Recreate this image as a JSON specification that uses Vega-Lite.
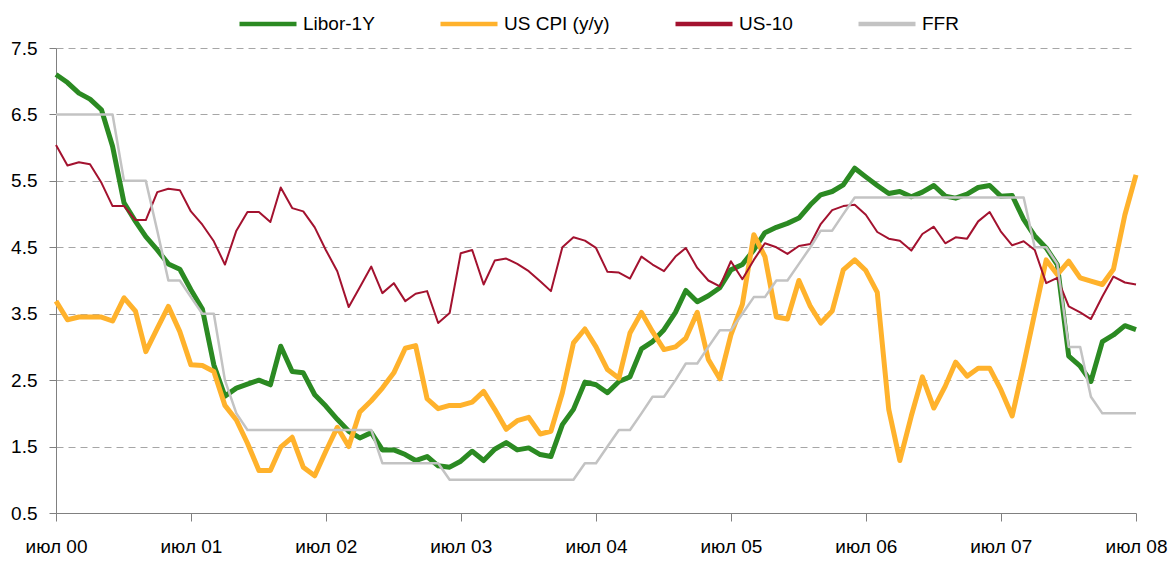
{
  "$schema": "https://vega.github.io/schema/vega-lite/v6.json",
  "width": 1080,
  "height": 465,
  "autosize": {"type": "none"},
  "padding": {"left": 56, "top": 48, "right": 33, "bottom": 48},
  "background": "white",
  "config": {
    "view": {"stroke": null},
    "font": "Liberation Sans",
    "legend": {
      "orient": "none",
      "legendX": 181,
      "legendY": -55,
      "direction": "horizontal",
      "title": null,
      "labelFontSize": 19,
      "labelColor": "#000000",
      "labelFont": "Liberation Sans",
      "symbolType": "stroke",
      "symbolSize": 3249,
      "symbolStrokeWidth": 4.5,
      "labelOffset": 4,
      "columnPadding": 56
    }
  },
  "data": {
    "values": [
      {"date": "2000-07-01", "Libor-1Y": 7.10, "US CPI (y/y)": 3.69, "US-10": 6.04, "FFR": 6.5},
      {"date": "2000-08-01", "Libor-1Y": 6.98, "US CPI (y/y)": 3.41, "US-10": 5.73, "FFR": 6.5},
      {"date": "2000-09-01", "Libor-1Y": 6.82, "US CPI (y/y)": 3.45, "US-10": 5.78, "FFR": 6.5},
      {"date": "2000-10-01", "Libor-1Y": 6.73, "US CPI (y/y)": 3.45, "US-10": 5.75, "FFR": 6.5},
      {"date": "2000-11-01", "Libor-1Y": 6.57, "US CPI (y/y)": 3.45, "US-10": 5.47, "FFR": 6.5},
      {"date": "2000-12-01", "Libor-1Y": 6.02, "US CPI (y/y)": 3.39, "US-10": 5.12, "FFR": 6.5},
      {"date": "2001-01-01", "Libor-1Y": 5.17, "US CPI (y/y)": 3.74, "US-10": 5.12, "FFR": 5.5},
      {"date": "2001-02-01", "Libor-1Y": 4.89, "US CPI (y/y)": 3.54, "US-10": 4.91, "FFR": 5.5},
      {"date": "2001-03-01", "Libor-1Y": 4.66, "US CPI (y/y)": 2.93, "US-10": 4.91, "FFR": 5.5},
      {"date": "2001-04-01", "Libor-1Y": 4.46, "US CPI (y/y)": 3.28, "US-10": 5.33, "FFR": 4.75},
      {"date": "2001-05-01", "Libor-1Y": 4.25, "US CPI (y/y)": 3.61, "US-10": 5.38, "FFR": 4.0},
      {"date": "2001-06-01", "Libor-1Y": 4.17, "US CPI (y/y)": 3.23, "US-10": 5.36, "FFR": 4.0},
      {"date": "2001-07-01", "Libor-1Y": 3.86, "US CPI (y/y)": 2.73, "US-10": 5.04, "FFR": 3.75},
      {"date": "2001-08-01", "Libor-1Y": 3.57, "US CPI (y/y)": 2.72, "US-10": 4.84, "FFR": 3.5},
      {"date": "2001-09-01", "Libor-1Y": 2.73, "US CPI (y/y)": 2.63, "US-10": 4.59, "FFR": 3.5},
      {"date": "2001-10-01", "Libor-1Y": 2.26, "US CPI (y/y)": 2.12, "US-10": 4.24, "FFR": 2.5},
      {"date": "2001-11-01", "Libor-1Y": 2.38, "US CPI (y/y)": 1.90, "US-10": 4.75, "FFR": 2.0},
      {"date": "2001-12-01", "Libor-1Y": 2.44, "US CPI (y/y)": 1.55, "US-10": 5.03, "FFR": 1.75},
      {"date": "2002-01-01", "Libor-1Y": 2.50, "US CPI (y/y)": 1.14, "US-10": 5.03, "FFR": 1.75},
      {"date": "2002-02-01", "Libor-1Y": 2.43, "US CPI (y/y)": 1.14, "US-10": 4.88, "FFR": 1.75},
      {"date": "2002-03-01", "Libor-1Y": 3.01, "US CPI (y/y)": 1.49, "US-10": 5.40, "FFR": 1.75},
      {"date": "2002-04-01", "Libor-1Y": 2.63, "US CPI (y/y)": 1.64, "US-10": 5.09, "FFR": 1.75},
      {"date": "2002-05-01", "Libor-1Y": 2.61, "US CPI (y/y)": 1.19, "US-10": 5.04, "FFR": 1.75},
      {"date": "2002-06-01", "Libor-1Y": 2.28, "US CPI (y/y)": 1.06, "US-10": 4.80, "FFR": 1.75},
      {"date": "2002-07-01", "Libor-1Y": 2.11, "US CPI (y/y)": 1.43, "US-10": 4.46, "FFR": 1.75},
      {"date": "2002-08-01", "Libor-1Y": 1.91, "US CPI (y/y)": 1.79, "US-10": 4.14, "FFR": 1.75},
      {"date": "2002-09-01", "Libor-1Y": 1.73, "US CPI (y/y)": 1.50, "US-10": 3.60, "FFR": 1.75},
      {"date": "2002-10-01", "Libor-1Y": 1.63, "US CPI (y/y)": 2.02, "US-10": 3.90, "FFR": 1.75},
      {"date": "2002-11-01", "Libor-1Y": 1.71, "US CPI (y/y)": 2.19, "US-10": 4.21, "FFR": 1.75},
      {"date": "2002-12-01", "Libor-1Y": 1.45, "US CPI (y/y)": 2.38, "US-10": 3.81, "FFR": 1.25},
      {"date": "2003-01-01", "Libor-1Y": 1.45, "US CPI (y/y)": 2.61, "US-10": 3.96, "FFR": 1.25},
      {"date": "2003-02-01", "Libor-1Y": 1.38, "US CPI (y/y)": 2.98, "US-10": 3.69, "FFR": 1.25},
      {"date": "2003-03-01", "Libor-1Y": 1.29, "US CPI (y/y)": 3.02, "US-10": 3.80, "FFR": 1.25},
      {"date": "2003-04-01", "Libor-1Y": 1.35, "US CPI (y/y)": 2.22, "US-10": 3.84, "FFR": 1.25},
      {"date": "2003-05-01", "Libor-1Y": 1.21, "US CPI (y/y)": 2.07, "US-10": 3.36, "FFR": 1.25},
      {"date": "2003-06-01", "Libor-1Y": 1.19, "US CPI (y/y)": 2.12, "US-10": 3.51, "FFR": 1.0},
      {"date": "2003-07-01", "Libor-1Y": 1.28, "US CPI (y/y)": 2.12, "US-10": 4.41, "FFR": 1.0},
      {"date": "2003-08-01", "Libor-1Y": 1.43, "US CPI (y/y)": 2.17, "US-10": 4.46, "FFR": 1.0},
      {"date": "2003-09-01", "Libor-1Y": 1.29, "US CPI (y/y)": 2.33, "US-10": 3.94, "FFR": 1.0},
      {"date": "2003-10-01", "Libor-1Y": 1.46, "US CPI (y/y)": 2.06, "US-10": 4.30, "FFR": 1.0},
      {"date": "2003-11-01", "Libor-1Y": 1.56, "US CPI (y/y)": 1.76, "US-10": 4.33, "FFR": 1.0},
      {"date": "2003-12-01", "Libor-1Y": 1.45, "US CPI (y/y)": 1.89, "US-10": 4.25, "FFR": 1.0},
      {"date": "2004-01-01", "Libor-1Y": 1.48, "US CPI (y/y)": 1.94, "US-10": 4.14, "FFR": 1.0},
      {"date": "2004-02-01", "Libor-1Y": 1.38, "US CPI (y/y)": 1.69, "US-10": 3.99, "FFR": 1.0},
      {"date": "2004-03-01", "Libor-1Y": 1.35, "US CPI (y/y)": 1.73, "US-10": 3.84, "FFR": 1.0},
      {"date": "2004-04-01", "Libor-1Y": 1.83, "US CPI (y/y)": 2.31, "US-10": 4.50, "FFR": 1.0},
      {"date": "2004-05-01", "Libor-1Y": 2.06, "US CPI (y/y)": 3.06, "US-10": 4.65, "FFR": 1.0},
      {"date": "2004-06-01", "Libor-1Y": 2.47, "US CPI (y/y)": 3.27, "US-10": 4.60, "FFR": 1.25},
      {"date": "2004-07-01", "Libor-1Y": 2.43, "US CPI (y/y)": 3.00, "US-10": 4.49, "FFR": 1.25},
      {"date": "2004-08-01", "Libor-1Y": 2.31, "US CPI (y/y)": 2.66, "US-10": 4.13, "FFR": 1.5},
      {"date": "2004-09-01", "Libor-1Y": 2.48, "US CPI (y/y)": 2.53, "US-10": 4.12, "FFR": 1.75},
      {"date": "2004-10-01", "Libor-1Y": 2.55, "US CPI (y/y)": 3.21, "US-10": 4.03, "FFR": 1.75},
      {"date": "2004-11-01", "Libor-1Y": 2.97, "US CPI (y/y)": 3.52, "US-10": 4.36, "FFR": 2.0},
      {"date": "2004-12-01", "Libor-1Y": 3.08, "US CPI (y/y)": 3.23, "US-10": 4.24, "FFR": 2.25},
      {"date": "2005-01-01", "Libor-1Y": 3.26, "US CPI (y/y)": 2.96, "US-10": 4.14, "FFR": 2.25},
      {"date": "2005-02-01", "Libor-1Y": 3.52, "US CPI (y/y)": 3.00, "US-10": 4.36, "FFR": 2.5},
      {"date": "2005-03-01", "Libor-1Y": 3.85, "US CPI (y/y)": 3.13, "US-10": 4.49, "FFR": 2.75},
      {"date": "2005-04-01", "Libor-1Y": 3.68, "US CPI (y/y)": 3.52, "US-10": 4.19, "FFR": 2.75},
      {"date": "2005-05-01", "Libor-1Y": 3.77, "US CPI (y/y)": 2.81, "US-10": 4.00, "FFR": 3.0},
      {"date": "2005-06-01", "Libor-1Y": 3.89, "US CPI (y/y)": 2.52, "US-10": 3.91, "FFR": 3.25},
      {"date": "2005-07-01", "Libor-1Y": 4.16, "US CPI (y/y)": 3.18, "US-10": 4.29, "FFR": 3.25},
      {"date": "2005-08-01", "Libor-1Y": 4.24, "US CPI (y/y)": 3.64, "US-10": 4.02, "FFR": 3.5},
      {"date": "2005-09-01", "Libor-1Y": 4.46, "US CPI (y/y)": 4.69, "US-10": 4.31, "FFR": 3.75},
      {"date": "2005-10-01", "Libor-1Y": 4.72, "US CPI (y/y)": 4.36, "US-10": 4.56, "FFR": 3.75},
      {"date": "2005-11-01", "Libor-1Y": 4.80, "US CPI (y/y)": 3.45, "US-10": 4.50, "FFR": 4.0},
      {"date": "2005-12-01", "Libor-1Y": 4.86, "US CPI (y/y)": 3.42, "US-10": 4.40, "FFR": 4.0},
      {"date": "2006-01-01", "Libor-1Y": 4.94, "US CPI (y/y)": 4.00, "US-10": 4.52, "FFR": 4.25},
      {"date": "2006-02-01", "Libor-1Y": 5.14, "US CPI (y/y)": 3.61, "US-10": 4.55, "FFR": 4.5},
      {"date": "2006-03-01", "Libor-1Y": 5.29, "US CPI (y/y)": 3.36, "US-10": 4.85, "FFR": 4.75},
      {"date": "2006-04-01", "Libor-1Y": 5.34, "US CPI (y/y)": 3.54, "US-10": 5.06, "FFR": 4.75},
      {"date": "2006-05-01", "Libor-1Y": 5.44, "US CPI (y/y)": 4.16, "US-10": 5.12, "FFR": 5.0},
      {"date": "2006-06-01", "Libor-1Y": 5.69, "US CPI (y/y)": 4.31, "US-10": 5.14, "FFR": 5.25},
      {"date": "2006-07-01", "Libor-1Y": 5.56, "US CPI (y/y)": 4.15, "US-10": 4.99, "FFR": 5.25},
      {"date": "2006-08-01", "Libor-1Y": 5.43, "US CPI (y/y)": 3.82, "US-10": 4.73, "FFR": 5.25},
      {"date": "2006-09-01", "Libor-1Y": 5.31, "US CPI (y/y)": 2.06, "US-10": 4.63, "FFR": 5.25},
      {"date": "2006-10-01", "Libor-1Y": 5.34, "US CPI (y/y)": 1.29, "US-10": 4.60, "FFR": 5.25},
      {"date": "2006-11-01", "Libor-1Y": 5.26, "US CPI (y/y)": 1.96, "US-10": 4.45, "FFR": 5.25},
      {"date": "2006-12-01", "Libor-1Y": 5.33, "US CPI (y/y)": 2.55, "US-10": 4.70, "FFR": 5.25},
      {"date": "2007-01-01", "Libor-1Y": 5.43, "US CPI (y/y)": 2.08, "US-10": 4.81, "FFR": 5.25},
      {"date": "2007-02-01", "Libor-1Y": 5.27, "US CPI (y/y)": 2.41, "US-10": 4.56, "FFR": 5.25},
      {"date": "2007-03-01", "Libor-1Y": 5.24, "US CPI (y/y)": 2.77, "US-10": 4.65, "FFR": 5.25},
      {"date": "2007-04-01", "Libor-1Y": 5.30, "US CPI (y/y)": 2.56, "US-10": 4.63, "FFR": 5.25},
      {"date": "2007-05-01", "Libor-1Y": 5.40, "US CPI (y/y)": 2.68, "US-10": 4.89, "FFR": 5.25},
      {"date": "2007-06-01", "Libor-1Y": 5.43, "US CPI (y/y)": 2.68, "US-10": 5.03, "FFR": 5.25},
      {"date": "2007-07-01", "Libor-1Y": 5.27, "US CPI (y/y)": 2.36, "US-10": 4.74, "FFR": 5.25},
      {"date": "2007-08-01", "Libor-1Y": 5.28, "US CPI (y/y)": 1.96, "US-10": 4.53, "FFR": 5.25},
      {"date": "2007-09-01", "Libor-1Y": 4.92, "US CPI (y/y)": 2.73, "US-10": 4.59, "FFR": 5.25},
      {"date": "2007-10-01", "Libor-1Y": 4.67, "US CPI (y/y)": 3.51, "US-10": 4.46, "FFR": 4.5},
      {"date": "2007-11-01", "Libor-1Y": 4.49, "US CPI (y/y)": 4.31, "US-10": 3.96, "FFR": 4.5},
      {"date": "2007-12-01", "Libor-1Y": 4.24, "US CPI (y/y)": 4.09, "US-10": 4.04, "FFR": 4.25},
      {"date": "2008-01-01", "Libor-1Y": 2.86, "US CPI (y/y)": 4.29, "US-10": 3.61, "FFR": 3.0},
      {"date": "2008-02-01", "Libor-1Y": 2.71, "US CPI (y/y)": 4.04, "US-10": 3.52, "FFR": 3.0},
      {"date": "2008-03-01", "Libor-1Y": 2.48, "US CPI (y/y)": 3.99, "US-10": 3.42, "FFR": 2.25},
      {"date": "2008-04-01", "Libor-1Y": 3.08, "US CPI (y/y)": 3.94, "US-10": 3.76, "FFR": 2.0},
      {"date": "2008-05-01", "Libor-1Y": 3.18, "US CPI (y/y)": 4.17, "US-10": 4.06, "FFR": 2.0},
      {"date": "2008-06-01", "Libor-1Y": 3.32, "US CPI (y/y)": 4.99, "US-10": 3.97, "FFR": 2.0},
      {"date": "2008-07-01", "Libor-1Y": 3.26, "US CPI (y/y)": 5.59, "US-10": 3.94, "FFR": 2.0}
    ]
  },
  "transform": [
    {"fold": ["Libor-1Y", "US CPI (y/y)", "US-10", "FFR"], "as": ["series", "value"]}
  ],
  "encoding": {
    "x": {
      "field": "date",
      "type": "temporal",
      "scale": {
        "type": "utc",
        "domain": [
          {"year": 2000, "month": 7, "date": 1, "utc": true},
          {"year": 2008, "month": 7, "date": 1, "utc": true}
        ],
        "nice": false
      },
      "axis": {
        "title": null,
        "grid": false,
        "values": [
          {"year": 2000, "month": 7, "date": 1, "utc": true},
          {"year": 2001, "month": 7, "date": 1, "utc": true},
          {"year": 2002, "month": 7, "date": 1, "utc": true},
          {"year": 2003, "month": 7, "date": 1, "utc": true},
          {"year": 2004, "month": 7, "date": 1, "utc": true},
          {"year": 2005, "month": 7, "date": 1, "utc": true},
          {"year": 2006, "month": 7, "date": 1, "utc": true},
          {"year": 2007, "month": 7, "date": 1, "utc": true},
          {"year": 2008, "month": 7, "date": 1, "utc": true}
        ],
        "labelExpr": "'июл ' + utcFormat(datum.value, '%y')",
        "labelFlush": false,
        "labelOverlap": false,
        "labelFontSize": 19,
        "labelColor": "#000000",
        "labelPadding": 16,
        "tickSize": 8,
        "tickColor": "#808080",
        "domainColor": "#808080"
      }
    },
    "y": {
      "field": "value",
      "type": "quantitative",
      "scale": {"domain": [0.5, 7.5], "nice": false, "zero": false},
      "axis": {
        "title": null,
        "values": [0.5, 1.5, 2.5, 3.5, 4.5, 5.5, 6.5, 7.5],
        "format": ".1f",
        "grid": true,
        "gridDash": [7, 5],
        "gridColor": "#a6a6a6",
        "labelFontSize": 19,
        "labelColor": "#000000",
        "labelPadding": 12,
        "tickSize": 7,
        "tickColor": "#808080",
        "domainColor": "#808080"
      }
    },
    "color": {
      "field": "series",
      "type": "nominal",
      "scale": {
        "domain": ["Libor-1Y", "US CPI (y/y)", "US-10", "FFR"],
        "range": ["#2b8a22", "#ffb22c", "#a3122f", "#c3c3c3"]
      },
      "legend": {
        "encode": {
          "symbols": {"update": {"strokeWidth": {"value": 4.5}}}
        }
      }
    }
  },
  "layer": [
    {
      "transform": [{"filter": "datum.series === 'Libor-1Y' || datum.series === 'US CPI (y/y)'"}],
      "mark": {"type": "line", "strokeWidth": 5, "strokeJoin": "round"}
    },
    {
      "transform": [{"filter": "datum.series === 'US-10'"}],
      "mark": {"type": "line", "strokeWidth": 2, "strokeJoin": "round"}
    },
    {
      "transform": [{"filter": "datum.series === 'FFR'"}],
      "mark": {"type": "line", "strokeWidth": 2.5, "strokeJoin": "round"}
    }
  ]
}
